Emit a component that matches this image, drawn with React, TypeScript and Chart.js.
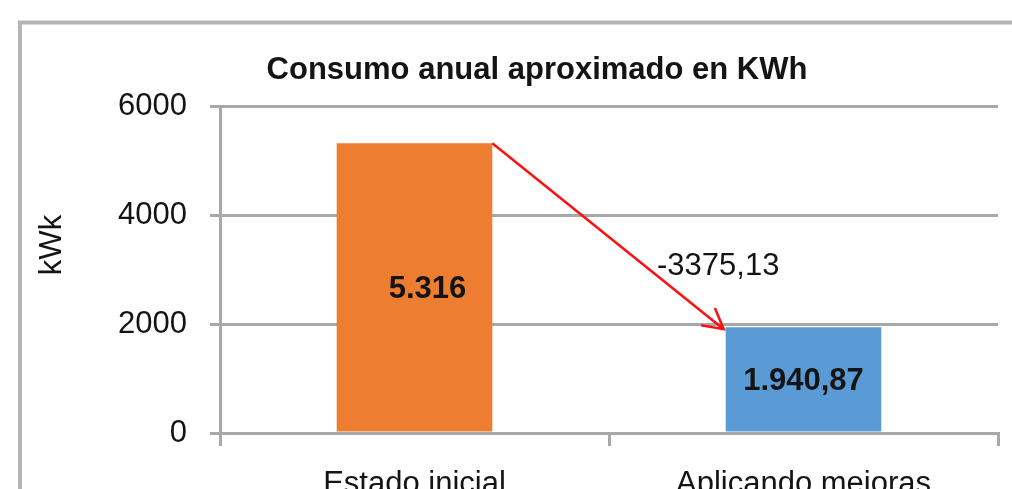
import { useEffect, useRef } from "react";
import { Chart, registerables } from "chart.js";

Chart.register(...registerables);

const categories = ["Estado inicial", "Aplicando mejoras"];
const values = [5316, 1940.87];
const valueLabels = ["5.316", "1.940,87"];
const barColors = ["#ED7D31", "#5B9BD5"];
const yTicks = [0, 2000, 4000, 6000];
const chartTitle = "Consumo anual aproximado en KWh";
const yTitle = "kWk";
const differenceLabel = (values[1] - values[0]).toFixed(2).replace(".", ",");

const FONT = "'Liberation Sans', Arial, sans-serif";
const GRID = "#a8a8a8";
const TEXT = "#141414";
const LABEL_DX = [13, 0];

const decorPlugin = {
  id: "decor",
  beforeDraw(chart: any) {
    const ctx = chart.ctx;
    ctx.save();
    ctx.strokeStyle = "#b5b5b5";
    ctx.lineWidth = 4;
    ctx.beginPath();
    ctx.moveTo(20, chart.height + 10);
    ctx.lineTo(20, 22.5);
    ctx.lineTo(chart.width + 10, 22.5);
    ctx.stroke();
    ctx.fillStyle = TEXT;
    ctx.textAlign = "center";
    ctx.textBaseline = "middle";
    ctx.font = `bold 31px ${FONT}`;
    ctx.fillText(chartTitle, 537, 70);
    ctx.translate(52, 245);
    ctx.rotate(-Math.PI / 2);
    ctx.font = `31px ${FONT}`;
    ctx.fillText(yTitle, 0, 0);
    ctx.restore();
  },
  afterDatasetsDraw(chart: any) {
    const ctx = chart.ctx;
    const meta = chart.getDatasetMeta(0);
    const a: any = meta.data[0];
    const b: any = meta.data[1];
    ctx.save();
    ctx.fillStyle = TEXT;
    ctx.font = `bold 31px ${FONT}`;
    ctx.textAlign = "center";
    ctx.textBaseline = "middle";
    meta.data.forEach((bar: any, i: number) => {
      ctx.fillText(valueLabels[i], bar.x + LABEL_DX[i], (bar.y + bar.base) / 2 + 2);
    });
    const x1 = a.x + a.width / 2;
    const y1 = a.y;
    const x2 = b.x - b.width / 2 - 2;
    const y2 = b.y + 2;
    ctx.strokeStyle = "#ff1010";
    ctx.lineWidth = 2.5;
    ctx.beginPath();
    ctx.moveTo(x1, y1);
    ctx.lineTo(x2, y2);
    const ang = Math.atan2(y2 - y1, x2 - x1);
    const len = 23;
    const spread = 0.5;
    ctx.moveTo(x2 - len * Math.cos(ang - spread), y2 - len * Math.sin(ang - spread));
    ctx.lineTo(x2, y2);
    ctx.lineTo(x2 - len * Math.cos(ang + spread), y2 - len * Math.sin(ang + spread));
    ctx.stroke();
    ctx.fillStyle = TEXT;
    ctx.font = `31px ${FONT}`;
    ctx.textAlign = "left";
    ctx.fillText(differenceLabel, (x1 + x2) / 2 + 49, (y1 + y2) / 2 + 30);
    ctx.restore();
  },
};

export default function App() {
  const ref = useRef<HTMLCanvasElement>(null);
  useEffect(() => {
    if (!ref.current) return;
    const chart = new Chart(ref.current, {
      type: "bar",
      data: {
        labels: categories,
        datasets: [
          {
            data: values,
            backgroundColor: barColors,
            borderWidth: 0,
            categoryPercentage: 1,
            barPercentage: 0.4,
          },
        ],
      },
      options: {
        animation: false,
        responsive: false,
        layout: { padding: { top: 106, right: 14, left: 0, bottom: 0 } },
        plugins: {
          legend: { display: false },
          tooltip: { enabled: false },
          title: { display: false },
        },
        scales: {
          x: {
            afterFit: (s: any) => {
              s.height = 56;
            },
            grid: {
              display: true,
              drawOnChartArea: false,
              drawTicks: true,
              tickLength: 13,
              offset: true,
              color: GRID,
              lineWidth: 3,
            },
            border: { display: true, color: GRID, width: 3 },
            ticks: {
              color: TEXT,
              font: { family: FONT, size: 31 },
              padding: 20,
              maxRotation: 0,
            },
          },
          y: {
            min: 0,
            max: 6000,
            afterFit: (s: any) => {
              s.width = 220;
            },
            afterBuildTicks: (s: any) => {
              s.ticks = yTicks.map((v) => ({ value: v }));
            },
            grid: {
              color: GRID,
              lineWidth: 3,
              drawTicks: true,
              tickLength: 10,
            },
            border: { display: true, color: GRID, width: 3 },
            ticks: {
              color: TEXT,
              font: { family: FONT, size: 31 },
              padding: 23,
              callback: (v: any) => String(v),
            },
          },
        },
      },
      plugins: [decorPlugin],
    });
    return () => chart.destroy();
  }, []);
  return (
    <div style={{ position: "fixed", left: 0, top: 0, width: 1012, height: 489, overflow: "hidden", background: "#fff" }}>
      <canvas ref={ref} width={1012} height={489} style={{ display: "block" }} />
    </div>
  );
}
